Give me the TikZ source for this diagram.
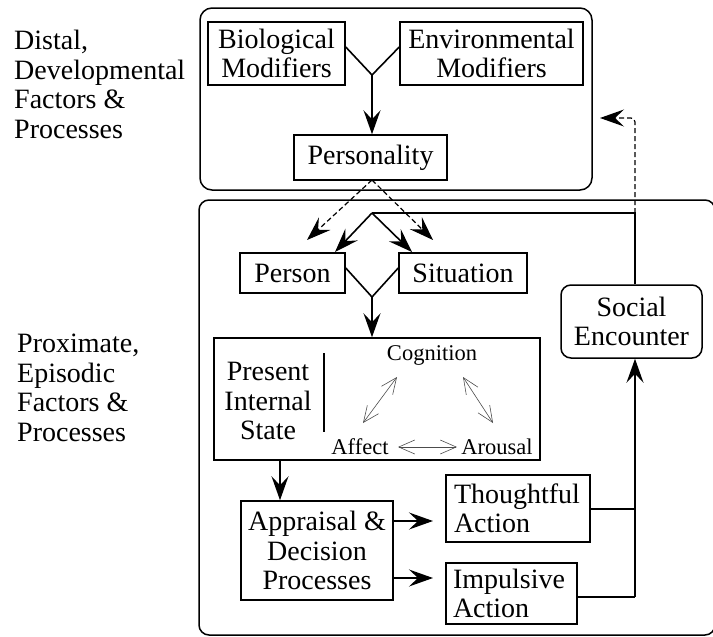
\documentclass[tikz,border=0pt]{standalone}
\usepackage{fontspec}
\setmainfont{Liberation Serif}[Ligatures=TeX]
\usetikzlibrary{arrows.meta}
\begin{document}
\begin{tikzpicture}[x=1pt,y=-1pt,
  bigtext/.style={font=\fontsize{28}{29.5}\selectfont},
  smalltext/.style={font=\fontsize{22.5}{24}\selectfont, inner sep=0pt},
  boxnode/.style={draw, line width=1.5pt, bigtext, align=center, inner sep=0pt},
  leftbox/.style={boxnode, align=left},
  grp/.style={draw, line width=1.5pt, rounded corners=12pt},
  conn/.style={line width=1.6pt},
  arr/.style={conn, -{Stealth[length=24pt,width=17pt,inset=9pt]}},
  darr/.style={line width=1.2pt, dash pattern=on 5pt off 3pt, -{Stealth[length=24pt,width=17pt,inset=9pt]}},
  thin/.style={line width=0.6pt, draw=black!70, {Straight Barb[length=16pt,width=14pt]}-{Straight Barb[length=16pt,width=14pt]}},
  label/.style={bigtext, align=left, anchor=north west, inner sep=0pt}
]
\useasboundingbox (0,0) rectangle (713,637);

% group frames
\draw[grp] (200,8) rectangle (592,190);
\draw[grp, rounded corners=10pt] (199,200) rectangle (715,635);

% side labels
\node[label] (distal) at (14,30) {Distal,\\Developmental\\Factors \&\\Processes};
\node[label] (prox) at (17,334) {Proximate,\\Episodic\\Factors \&\\Processes};

% top nodes
\node[boxnode, minimum width=137pt, minimum height=63pt] (bio) at (276.5,53.5) {Biological\\Modifiers};
\node[boxnode, minimum width=183pt, minimum height=63pt] (env) at (491.5,53.5) {Environmental\\Modifiers};
\node[boxnode, minimum width=153pt, minimum height=45pt] (pers) at (370.5,157.5) {Personality};

\coordinate (v1) at (372,75);
\draw[conn] (bio.east |- 0,47) -- (v1) -- (env.west |- 0,47);
\draw[arr] (v1) -- (pers.north -| v1);

% person / situation
\node[boxnode, minimum width=105pt, minimum height=40pt] (person) at (292.5,273) {Person};
\node[boxnode, minimum width=128pt, minimum height=40pt] (sit) at (463,273) {Situation};

\coordinate (apex) at (372,213);
\coordinate (pl) at (335,252);
\coordinate (sr) at (412,252);
\coordinate (dl) at (307,240);
\coordinate (dr) at (433,240);
\coordinate (pb) at (372,180);
\draw[darr] (pb) -- (dl);
\draw[darr] (pb) -- (dr);
\draw[arr] (apex) -- (pl);
\draw[arr] (apex) -- (sr);

\coordinate (v2) at (372,297);
\draw[conn] (person.east |- 0,268) -- (v2) -- (sit.west |- 0,268);

% present internal state
\node[draw, line width=1.5pt, minimum width=326pt, minimum height=122pt, inner sep=0pt] (state) at (377,399) {};
\draw[arr] (v2) -- (state.north -| v2);
\node[bigtext, align=center, inner sep=0pt] (pis) at (268,401) {Present\\Internal\\State};
\draw[line width=1.5pt] (324,353) -- (324,432);
\node[smalltext] (cog) at (432,355) {Cognition};
\node[smalltext] (aff) at (360,447) {Affect};
\node[smalltext] (aro) at (497,447) {Arousal};
\draw[thin] (397,377) -- (363,423);
\draw[thin] (463,377) -- (493,423);
\draw[thin] (398,447) -- (457,447);

% appraisal and actions
\node[boxnode, minimum width=152pt, minimum height=99pt] (appr) at (317,550.5) {Appraisal \&\\Decision\\Processes};
\draw[arr] (state.south -| 280,0) -- (appr.north -| 280,0);
\node[leftbox, minimum width=144pt, minimum height=67pt, text width=128pt] (thought) at (518,508.5) {Thoughtful\\Action};
\node[leftbox, minimum width=131pt, minimum height=61pt, text width=117pt] (imp) at (511.5,593.5) {Impulsive\\Action};
\coordinate (ta) at (433,521);
\coordinate (ia) at (433,578);
\draw[arr] (appr.east |- ta) -- (ta);
\draw[arr] (appr.east |- ia) -- (ia);

% social encounter
\node[boxnode, rounded corners=10pt, minimum width=141pt, minimum height=73pt] (soc) at (631.5,321.5) {Social\\Encounter};
\coordinate (jt) at (635,509);
\coordinate (ji) at (635,597);
\draw[conn] (thought.east |- jt) -- (jt);
\draw[conn] (imp.east |- ji) -- (ji);
\draw[arr] (ji) -- (soc.south -| ji);
\coordinate (fb) at (635,213);
\draw[conn] (soc.north -| fb) -- (fb) -- (apex);

% dashed feedback to distal
\coordinate (dtop) at (635,118);
\coordinate (dend) at (600,118);
\draw[darr, rounded corners=4pt] (fb) -- (dtop) -- (dend);
\end{tikzpicture}
\end{document}
